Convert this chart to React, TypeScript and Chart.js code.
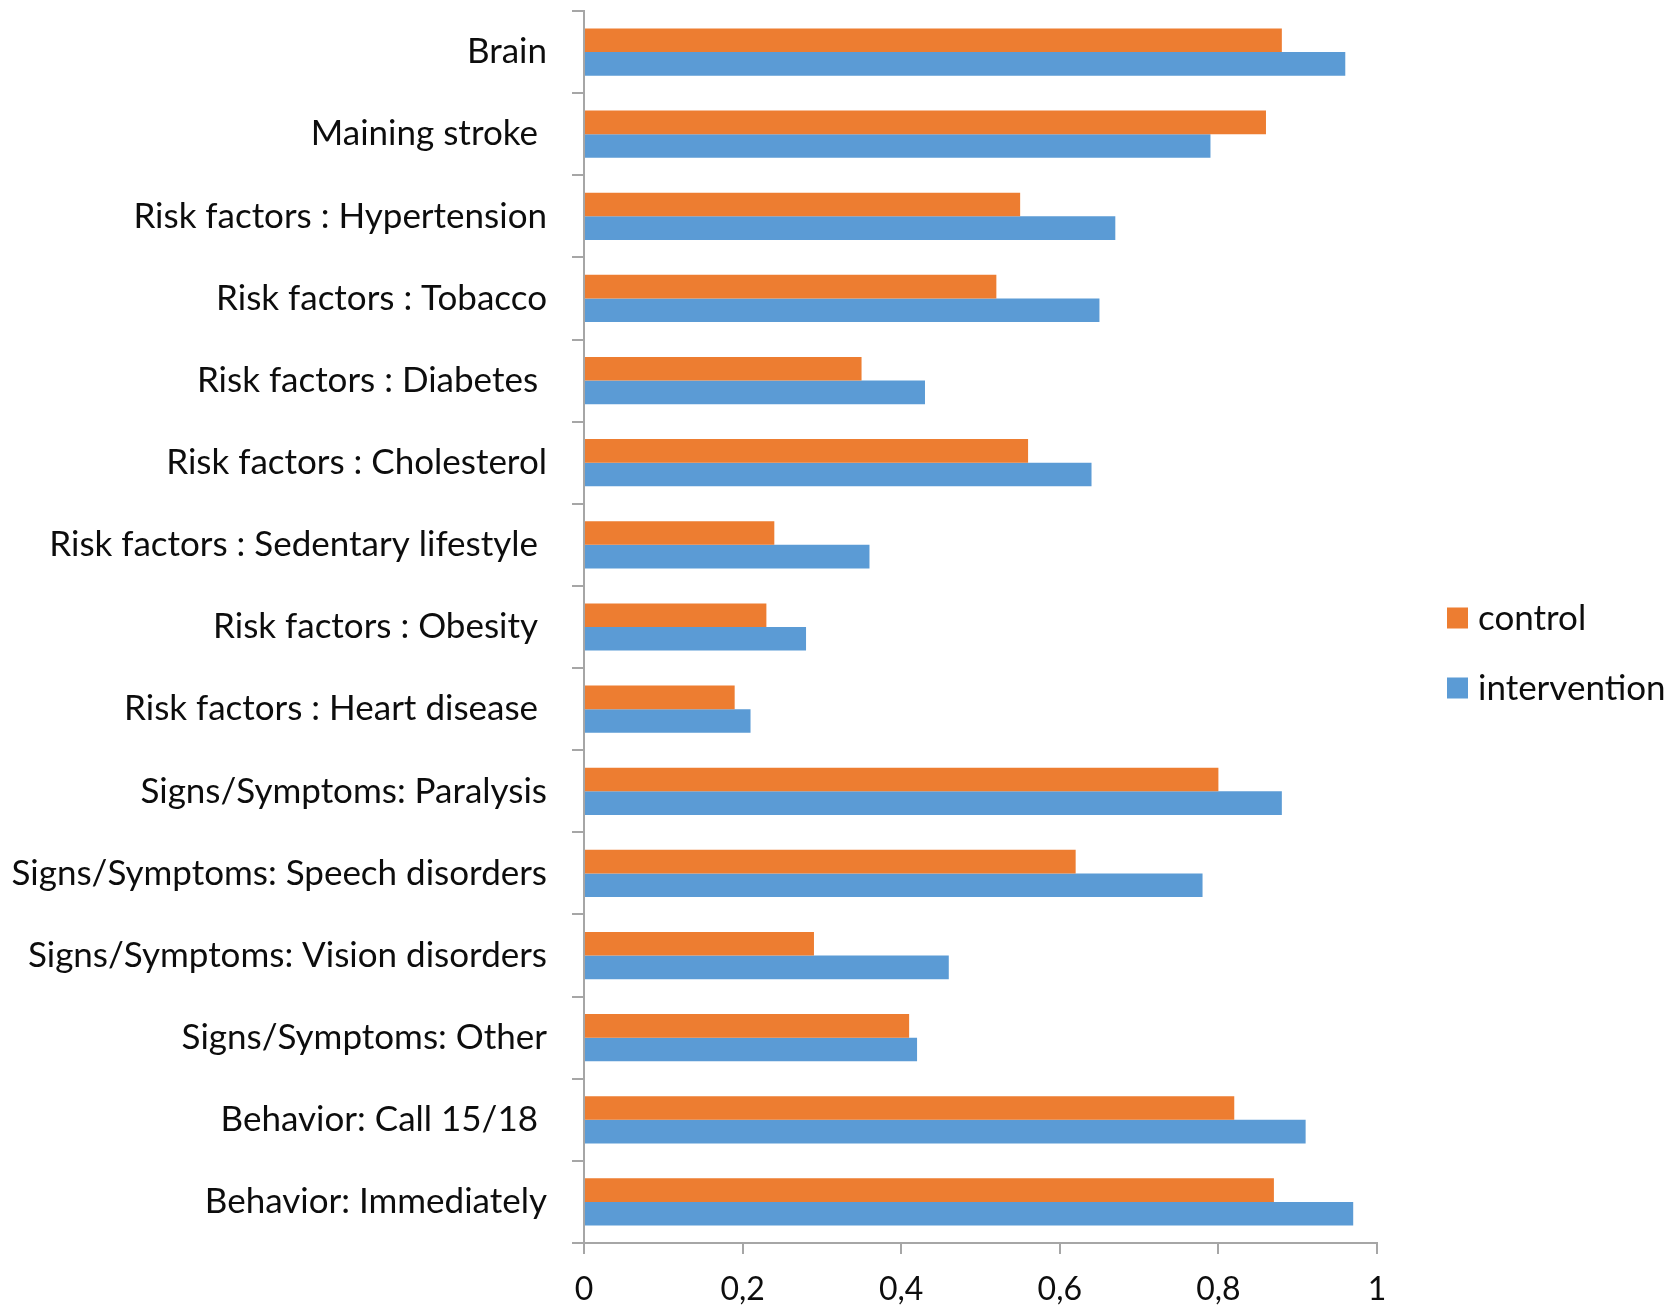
import React, { useEffect, useRef } from "react";
import { Chart, registerables } from "chart.js";

Chart.register(...registerables);

const categories = [
  "Brain",
  "Maining stroke ",
  "Risk factors : Hypertension",
  "Risk factors : Tobacco",
  "Risk factors : Diabetes ",
  "Risk factors : Cholesterol",
  "Risk factors : Sedentary lifestyle ",
  "Risk factors : Obesity ",
  "Risk factors : Heart disease ",
  "Signs/Symptoms: Paralysis",
  "Signs/Symptoms: Speech disorders",
  "Signs/Symptoms: Vision disorders",
  "Signs/Symptoms: Other",
  "Behavior: Call 15/18 ",
  "Behavior: Immediately",
];

const controlValues = [0.88, 0.86, 0.55, 0.52, 0.35, 0.56, 0.24, 0.23, 0.19, 0.8, 0.62, 0.29, 0.41, 0.82, 0.87];
const interventionValues = [0.96, 0.79, 0.67, 0.65, 0.43, 0.64, 0.36, 0.28, 0.21, 0.88, 0.78, 0.46, 0.42, 0.91, 0.97];

const seriesNames = ["control", "intervention"];
const seriesColors = ["#ED7D31", "#5B9BD5"];
const xTickLabels = ["0", "0,2", "0,4", "0,6", "0,8", "1"];

const FONT = "Lato";
const AXIS_COLOR = "#A6A6A6";
const TEXT_COLOR = "#0d0d0d";

const sideLegend = {
  id: "sideLegend",
  afterDraw(chart: any) {
    const ctx = chart.ctx;
    const area = chart.chartArea;
    ctx.save();
    ctx.font = `35px ${FONT}`;
    ctx.textBaseline = "middle";
    ctx.textAlign = "left";
    const x0 = area.right + 70;
    const midY = (area.top + area.bottom) / 2;
    seriesNames.forEach((name, i) => {
      const cy = midY - 9 + i * 70;
      ctx.fillStyle = seriesColors[i];
      ctx.fillRect(x0, cy - 10.5, 21, 21);
      ctx.fillStyle = TEXT_COLOR;
      ctx.fillText(name, x0 + 31, cy + 1);
    });
    ctx.restore();
  },
};

export default function App() {
  const ref = useRef<HTMLCanvasElement | null>(null);

  useEffect(() => {
    if (!ref.current) return;
    const chart = new Chart(ref.current, {
      type: "bar",
      data: {
        labels: categories,
        datasets: [
          {
            label: seriesNames[0],
            data: controlValues,
            backgroundColor: seriesColors[0],
            barPercentage: 1,
            categoryPercentage: 0.575,
          },
          {
            label: seriesNames[1],
            data: interventionValues,
            backgroundColor: seriesColors[1],
            barPercentage: 1,
            categoryPercentage: 0.575,
          },
        ],
      },
      options: {
        indexAxis: "y",
        responsive: false,
        animation: false,
        devicePixelRatio: 1,
        layout: { padding: { top: 11, right: 303, left: 0, bottom: 0 } },
        plugins: {
          legend: { display: false },
          tooltip: { enabled: false },
        },
        scales: {
          x: {
            min: 0,
            max: 1,
            ticks: {
              stepSize: 0.2,
              padding: 16,
              color: TEXT_COLOR,
              font: { family: FONT, size: 32 },
              callback: (_v: any, i: number) => xTickLabels[i],
            },
            grid: {
              drawOnChartArea: false,
              drawTicks: true,
              tickLength: 11,
              color: AXIS_COLOR,
              lineWidth: 2,
            },
            border: { color: AXIS_COLOR, width: 2 },
            afterFit: (s: any) => {
              s.height = 65;
              s.paddingLeft = 0;
              s.paddingRight = 0;
            },
          },
          y: {
            ticks: {
              padding: 25,
              color: TEXT_COLOR,
              font: { family: FONT, size: 35 },
              autoSkip: false,
            },
            grid: {
              offset: true,
              drawOnChartArea: false,
              drawTicks: true,
              tickLength: 12,
              color: AXIS_COLOR,
              lineWidth: 2,
            },
            border: { color: AXIS_COLOR, width: 2 },
            afterFit: (s: any) => {
              s.width = 584;
              s.paddingTop = 0;
              s.paddingBottom = 0;
            },
          },
        },
      },
      plugins: [sideLegend],
    } as any);
    return () => chart.destroy();
  }, []);

  return (
    <div style={{ position: "absolute", left: 0, top: 0, width: 1680, height: 1308, background: "#ffffff" }}>
      <canvas ref={ref} width={1680} height={1308} style={{ width: 1680, height: 1308, display: "block" }} />
    </div>
  );
}
